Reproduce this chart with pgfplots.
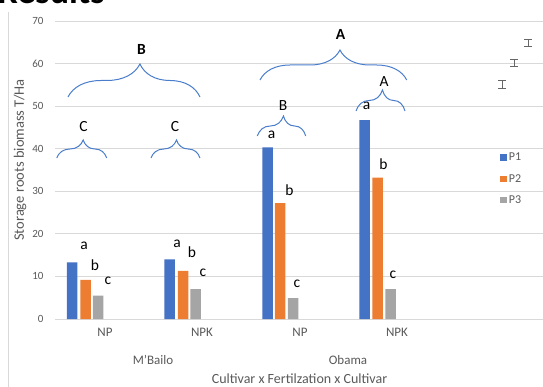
\documentclass[border=0pt]{standalone}
\usepackage{pgfplots}
\pgfplotsset{compat=1.18}
\usepackage{fontspec}
\setmainfont{Carlito}
\usetikzlibrary{decorations.pathreplacing}
\definecolor{cP1}{HTML}{4472C4}
\definecolor{cP2}{HTML}{ED7D31}
\definecolor{cP3}{HTML}{A5A5A5}
\definecolor{txt}{HTML}{595959}
\definecolor{gridc}{HTML}{D9D9D9}
\definecolor{bracec}{HTML}{4A7DCB}
\pgfplotsset{mylegend/.style={legend image code/.code={\path[##1] (0pt,-3.3pt) rectangle (6.6pt,3.3pt);}}}
\begin{document}
\begin{tikzpicture}
\useasboundingbox (0,0) rectangle (543pt,-387pt);
\begin{axis}[
  at={(55pt,-319pt)}, anchor=south west,
  scale only axis, width=488pt, height=298pt,
  xmin=55, xmax=543, ymin=0, ymax=70,
  ytick={0,10,...,70},
  xtick={105,202,300,397},
  xticklabels={NP,NPK,NP,NPK},
  axis line style={draw=none},
  major tick style={draw=none},
  ymajorgrids, grid style={gridc, line width=0.9pt},
  yticklabel style={font=\fontsize{11}{13}\selectfont, text=txt, xshift=-8pt},
  xticklabel style={font=\fontsize{13}{14}\selectfont, text=txt, yshift=-6pt},
  /pgf/number format/assume math mode=true,
  clip=false,
  legend style={at={(axis cs:500,39.5)}, anchor=north west, draw=none, fill=none,
    font=\fontsize{12}{14}\selectfont, text=txt, row sep=8pt, inner sep=0pt},
  legend cell align=left,
]
\addplot[ybar, bar width=10.5pt, bar shift=0pt, fill=cP1, draw=none, mylegend]
  coordinates {(72,13.3) (169.5,14.0) (267.5,40.3) (364.5,46.7)};
\addlegendentry{P1}
\addplot[ybar, bar width=10.5pt, bar shift=0pt, fill=cP2, draw=none, mylegend]
  coordinates {(85.5,9.2) (183,11.3) (280,27.2) (377.5,33.2)};
\addlegendentry{P2}
\addplot[ybar, bar width=10.5pt, bar shift=0pt, fill=cP3, draw=none, mylegend]
  coordinates {(98,5.5) (195.5,7.0) (293,4.9) (390.5,7.0)};
\addlegendentry{P3}
\addplot[forget plot, draw=none, mark=none,
  error bars/.cd, y dir=both, y explicit, error mark=|,
  error bar style={draw=black!60, line width=0.8pt},
  error mark options={draw=black!60, mark size=3.6pt, line width=0.8pt}]
  coordinates {(502,55.1) +- (0,0.85) (514,60.2) +- (0,0.8) (528,64.9) +- (0,0.85)};
\end{axis}
\begin{scope}[x=1pt,y=-1pt]
\draw[gridc, line width=1pt] (8,12) -- (8,390);
\node[anchor=base west, font=\bfseries\fontsize{36}{36}\selectfont] at (-6,4) {Results};
\node[rotate=90, font=\fontsize{14.5}{16}\selectfont, text=txt] at (20,160) {Storage roots biomass T/Ha};
\node[font=\fontsize{13}{14}\selectfont, text=txt] at (153,360) {M'Bailo};
\node[font=\fontsize{13}{14}\selectfont, text=txt] at (348,360) {Obama};
\node[font=\fontsize{14}{15}\selectfont, text=txt, inner sep=1pt] at (299.5,378.5) {Cultivar x Fertilzation x Cultivar};
% letters above bars
\begin{scope}[every node/.style={anchor=base, font=\fontsize{15.5}{16}\selectfont, inner sep=0pt}]
\node at (84,250) {a}; \node at (95,270.7) {b}; \node at (108,284) {c};
\node at (177,247.3) {a}; \node at (192,258) {b}; \node at (203,276.7) {c};
\node at (271.5,138.3) {a}; \node at (289.5,195.7) {b}; \node at (297,287.3) {c};
\node at (366.5,110) {a}; \node at (383.5,170) {b}; \node at (393,278.3) {c};
\node at (83.5,131.7) {C}; \node at (175,131.7) {C};
\node at (283,111) {B}; \node at (384,86.7) {A};
\node[font=\bfseries\fontsize{15.5}{16}\selectfont] at (141.5,55) {B};
\node[font=\bfseries\fontsize{15.5}{16}\selectfont] at (340.5,39.3) {A};
\end{scope}
% braces
\draw[bracec, line width=1pt, decorate, decoration={brace, amplitude=33pt, aspect=0.545}] (68,97) -- (200,97);
\draw[bracec, line width=1pt, decorate, decoration={brace, amplitude=30pt, aspect=0.545}] (260,80) -- (406.7,80);
\draw[bracec, line width=1pt, decorate, decoration={brace, amplitude=18pt, aspect=0.53}] (56.7,158) -- (106.7,158);
\draw[bracec, line width=1pt, decorate, decoration={brace, amplitude=18pt, aspect=0.52}] (151,158) -- (200,158);
\draw[bracec, line width=1pt, decorate, decoration={brace, amplitude=20pt, aspect=0.54}] (257.3,136) -- (305.7,136);
\draw[bracec, line width=1pt, decorate, decoration={brace, amplitude=21pt, aspect=0.54}] (356,111) -- (405,111);
\end{scope}
\end{tikzpicture}
\end{document}
